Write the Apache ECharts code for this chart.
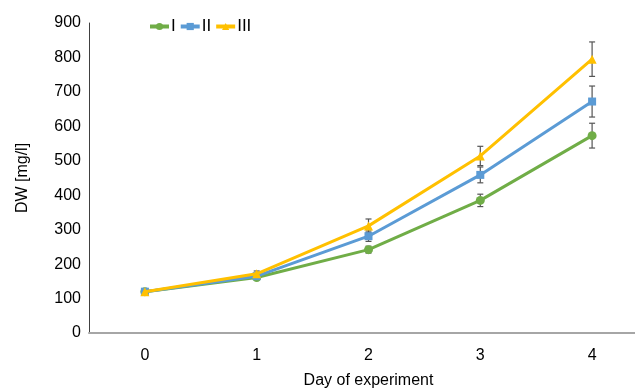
<!DOCTYPE html>
<html><head><meta charset="utf-8">
<script src="https://cdn.jsdelivr.net/npm/echarts@6/dist/echarts.min.js"></script>
<style>html,body{margin:0;padding:0;background:#fff}#c{width:635px;height:390px}</style>
</head><body><div id="c"></div>
<script>
const days = ['0','1','2','3','4'];
const seriesNames = ['I','II','III'];
const valI   = [120, 161, 242, 385, 573];
const valII  = [120, 165, 281, 459, 672];
const valIII = [120, 172, 311, 514, 795];
const errI   = [4, 6, 10, 18, 36];
const errII  = [4, 7, 15, 23, 45];
const errIII = [4, 8, 20, 28, 50];
const yTicks = [0,100,200,300,400,500,600,700,800,900];

const colors = ['#70ad47','#5b9bd5','#ffc000'];
const symbols = ['circle','rect','triangle'];
const vals = [valI, valII, valIII];
const errs = [errI, errII, errIII];

const chart = echarts.init(document.getElementById('c'));
const font = 'Liberation Sans, Arial, sans-serif';

function errSeries(i){
  const data = days.map((d,k)=>[k, vals[i][k]-errs[i][k], vals[i][k]+errs[i][k]]);
  return {
    type:'custom', name: seriesNames[i]+'_err', z: 1,
    data: data,
    renderItem: function(params, api){
      const x = api.value(0);
      const lo = api.coord([x, api.value(1)]);
      const hi = api.coord([x, api.value(2)]);
      const cw = 3;
      const st = {stroke:'#555', lineWidth:1.2};
      return {type:'group', children:[
        {type:'line', shape:{x1:lo[0],y1:lo[1],x2:hi[0],y2:hi[1]}, style:st},
        {type:'line', shape:{x1:lo[0]-cw,y1:lo[1],x2:lo[0]+cw,y2:lo[1]}, style:st},
        {type:'line', shape:{x1:hi[0]-cw,y1:hi[1],x2:hi[0]+cw,y2:hi[1]}, style:st}
      ]};
    },
    silent:true
  };
}

const series = [];
seriesNames.forEach((n,i)=>{
  series.push({
    type:'line', name:n, data: vals[i], z: 2+i,
    symbol: symbols[i], symbolSize: i===1?8:9, showSymbol:true,
    lineStyle:{color:colors[i], width:3},
    itemStyle:{color:colors[i]},
    animation:false
  });
});
seriesNames.forEach((n,i)=>series.push(errSeries(i)));

chart.setOption({
  animation:false,
  backgroundColor:'#fff',
  legend:{
    data: seriesNames, left:143, top:13, itemWidth:19, itemHeight:9, itemGap:3,
    lineStyle:{width:4},
    textStyle:{fontFamily:font, fontSize:17, color:'#000', padding:[0,0,0,-3]}
  },
  grid:{left:89, width:559, top:23, bottom:57, containLabel:false, outerBoundsMode:'none'},
  xAxis:{
    type:'category', data: days, boundaryGap:true,
    name:'Day of experiment', nameLocation:'middle', nameGap:40,
    nameTextStyle:{fontFamily:font, fontSize:16, color:'#000'},
    axisLine:{lineStyle:{color:'#a6a6a6', width:2}},
    axisTick:{show:false},
    axisLabel:{fontFamily:font, fontSize:16, color:'#000', margin:15}
  },
  yAxis:{
    type:'value', min:0, max:900, interval:100,
    name:'DW [mg/l]', nameLocation:'middle', nameGap:58, nameRotate:90,
    nameTextStyle:{fontFamily:font, fontSize:16, color:'#000'},
    axisLine:{show:true, lineStyle:{color:'#404040', width:1}},
    axisTick:{show:false},
    splitLine:{show:false},
    axisLabel:{fontFamily:font, fontSize:16, color:'#000', margin:8,
      formatter:v=>yTicks.includes(v)?String(v):''}
  },
  series: series
});
</script></body></html>
